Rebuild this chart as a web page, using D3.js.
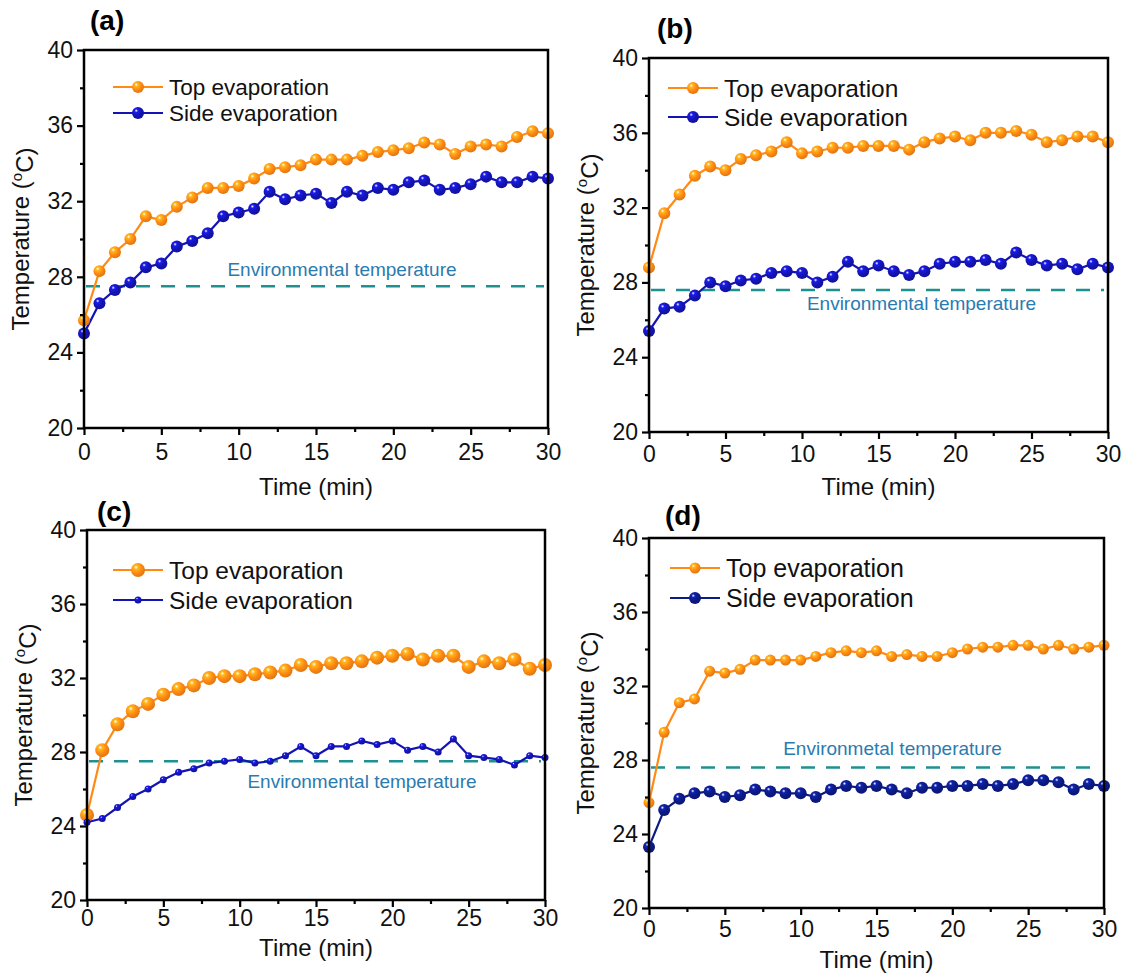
<!DOCTYPE html>
<html>
<head>
<meta charset="utf-8">
<script src="https://cdn.jsdelivr.net/npm/d3@7/dist/d3.min.js"></script>
<style>
  body { margin: 0; background: #fff; }
  svg { font-family: "Liberation Sans", Arial, sans-serif; display: block; }
</style>
</head>
<body>
<div id="chart"></div>
<script>
// =======================
// Temperature vs time, four panels
// =======================

const minutes = [0, 1, 2, 3, 4, 5, 6, 7, 8, 9, 10, 11, 12, 13, 14, 15,
                 16, 17, 18, 19, 20, 21, 22, 23, 24, 25, 26, 27, 28, 29, 30];

// (a)
const topA = [25.7, 28.3, 29.3, 30.0, 31.2, 31.0, 31.7, 32.2, 32.7, 32.7, 32.8, 33.2, 33.7, 33.8, 33.9, 34.2,
              34.2, 34.2, 34.4, 34.6, 34.7, 34.8, 35.1, 35.0, 34.5, 34.9, 35.0, 34.9, 35.4, 35.7, 35.6];
const sideA = [25.0, 26.6, 27.3, 27.7, 28.5, 28.7, 29.6, 29.9, 30.3, 31.2, 31.4, 31.6, 32.5, 32.1, 32.3, 32.4,
               31.9, 32.5, 32.3, 32.7, 32.6, 33.0, 33.1, 32.6, 32.7, 32.9, 33.3, 33.0, 33.0, 33.3, 33.2];
// (b)
const topB = [28.8, 31.7, 32.7, 33.7, 34.2, 34.0, 34.6, 34.8, 35.0, 35.5, 34.9, 35.0, 35.2, 35.2, 35.3, 35.3,
              35.3, 35.1, 35.5, 35.7, 35.8, 35.6, 36.0, 36.0, 36.1, 35.9, 35.5, 35.6, 35.8, 35.8, 35.5];
const sideB = [25.4, 26.6, 26.7, 27.3, 28.0, 27.8, 28.1, 28.2, 28.5, 28.6, 28.5, 28.0, 28.3, 29.1, 28.6, 28.9,
               28.6, 28.4, 28.6, 29.0, 29.1, 29.1, 29.2, 29.0, 29.6, 29.2, 28.9, 29.0, 28.7, 29.0, 28.8];
// (c)
const topC = [24.6, 28.1, 29.5, 30.2, 30.6, 31.1, 31.4, 31.6, 32.0, 32.1, 32.1, 32.2, 32.3, 32.4, 32.7, 32.6,
              32.8, 32.8, 32.9, 33.1, 33.2, 33.3, 33.0, 33.2, 33.2, 32.6, 32.9, 32.8, 33.0, 32.5, 32.7];
const sideC = [24.2, 24.4, 25.0, 25.6, 26.0, 26.5, 26.9, 27.1, 27.4, 27.5, 27.6, 27.4, 27.5, 27.8, 28.3, 27.8,
               28.3, 28.3, 28.6, 28.4, 28.6, 28.1, 28.3, 28.0, 28.7, 27.8, 27.7, 27.6, 27.3, 27.8, 27.7];
// (d)
const topD = [25.7, 29.5, 31.1, 31.3, 32.8, 32.7, 32.9, 33.4, 33.4, 33.4, 33.4, 33.6, 33.8, 33.9, 33.8, 33.9,
              33.6, 33.7, 33.6, 33.6, 33.8, 34.0, 34.1, 34.1, 34.2, 34.2, 34.0, 34.2, 34.0, 34.1, 34.2];
const sideD = [23.3, 25.3, 25.9, 26.2, 26.3, 26.0, 26.1, 26.4, 26.3, 26.2, 26.2, 26.0, 26.4, 26.6, 26.5, 26.6,
               26.4, 26.2, 26.5, 26.5, 26.6, 26.6, 26.7, 26.6, 26.7, 26.9, 26.9, 26.8, 26.4, 26.7, 26.6];

const envTemps = [27.5, 27.6, 27.5, 27.6];
const envLabels = ["Environmental temperature", "Environmental temperature",
                   "Environmental temperature", "Environmetal temperature"];
const panelLetters = ["(a)", "(b)", "(c)", "(d)"];
const seriesNames = ["Top evaporation", "Side evaporation"];
const yTicks = [20, 24, 28, 32, 36, 40];
const xTicks = [0, 5, 10, 15, 20, 25, 30];

// layout of each panel (pixels)
const layout = [
  { l: 84,  r: 548,  t: 50,  b: 428, envDx: 26, envDy: -10, legX: 113, legY: 87,  legGap: 26, legFont: 22.5,
    xPad: 9, titleDy: 67, letterDx: 6,  letterDy: -20, sideR: 6,   topR: 6,   sideColor: "#1414b4" },
  { l: 649, r: 1108, t: 58,  b: 432, envDx: 43, envDy: 20,  legX: 668, legY: 88,  legGap: 29, legFont: 24.5,
    xPad: 7, titleDy: 63, letterDx: 8,  letterDy: -20, sideR: 6,   topR: 6,   sideColor: "#1414b4" },
  { l: 87,  r: 545,  t: 530, b: 900, envDx: 46, envDy: 27,  legX: 113, legY: 570, legGap: 30, legFont: 24.5,
    xPad: 3, titleDy: 56, letterDx: 10, letterDy: -9,  sideR: 3.5, topR: 7,   sideColor: "#1414b4" },
  { l: 649, r: 1104, t: 538, b: 908, envDx: 16, envDy: -12, legX: 670, legY: 568, legGap: 30, legFont: 25,
    xPad: 6, titleDy: 60, letterDx: 16, letterDy: -13, sideR: 6,   topR: 5.5, sideColor: "#0c1a84" }
];
const topSeries = [topA, topB, topC, topD];
const sideSeries = [sideA, sideB, sideC, sideD];

const topColor = "#ff8a14";
const envColor = "#1f9090";
const envTextColor = "#2a7bb0";

const svg = d3.select("#chart")
  .append("svg")
    .attr("width", 1131)
    .attr("height", 976);

// shiny ball gradients
const defs = svg.append("defs");
function ballGradient(id, base) {
  const g = defs.append("radialGradient")
    .attr("id", id)
    .attr("cx", "38%").attr("cy", "35%").attr("r", "65%")
    .attr("fx", "35%").attr("fy", "30%");
  g.append("stop").attr("offset", "0%").attr("stop-color", "#ffffff");
  g.append("stop").attr("offset", "22%").attr("stop-color", d3.color(base).brighter(0.8));
  g.append("stop").attr("offset", "60%").attr("stop-color", base);
  g.append("stop").attr("offset", "100%").attr("stop-color", d3.color(base).darker(0.4));
}
ballGradient("ball-top", topColor);
ballGradient("ball-side", "#1414b4");
ballGradient("ball-side-d", "#0c1a84");

layout.forEach((p, i) => {
  const x = d3.scaleLinear().domain([0, 30]).range([p.l, p.r]);
  const y = d3.scaleLinear().domain([20, 40]).range([p.b, p.t]);
  const g = svg.append("g");
  const sideGrad = i === 3 ? "ball-side-d" : "ball-side";

  // Environmental temperature line
  g.append("line")
    .attr("x1", x(0) + 2).attr("x2", x(30) - 4)
    .attr("y1", y(envTemps[i])).attr("y2", y(envTemps[i]))
    .attr("stroke", envColor)
    .attr("stroke-width", 2.5)
    .attr("stroke-dasharray", "14,11");

  g.append("text")
    .attr("x", (x(0) + x(30)) / 2 + p.envDx)
    .attr("y", y(envTemps[i]) + p.envDy)
    .attr("text-anchor", "middle")
    .attr("fill", envTextColor)
    .style("font-size", "19px")
    .text(envLabels[i]);

  // Lines and markers
  const line = d3.line()
    .x((d, j) => x(minutes[j]))
    .y(d => y(d));

  const series = [
    { vals: topSeries[i], color: topColor, grad: "ball-top", r: p.topR },
    { vals: sideSeries[i], color: p.sideColor, grad: sideGrad, r: p.sideR }
  ];

  series.forEach(s => {
    g.append("path")
      .datum(s.vals)
      .attr("fill", "none")
      .attr("stroke", s.color)
      .attr("stroke-width", 2.2)
      .attr("d", line);
  });
  series.forEach(s => {
    g.selectAll(null)
      .data(s.vals)
      .enter()
      .append("circle")
        .attr("cx", (d, j) => x(minutes[j]))
        .attr("cy", d => y(d))
        .attr("r", s.r)
        .attr("fill", `url(#${s.grad})`);
  });

  // Legend
  series.forEach((s, k) => {
    const ly = p.legY + k * p.legGap;
    g.append("line")
      .attr("x1", p.legX).attr("x2", p.legX + 50)
      .attr("y1", ly).attr("y2", ly)
      .attr("stroke", s.color)
      .attr("stroke-width", 2.2);
    g.append("circle")
      .attr("cx", p.legX + 25).attr("cy", ly)
      .attr("r", s.r)
      .attr("fill", `url(#${s.grad})`);
    g.append("text")
      .attr("x", p.legX + 56)
      .attr("y", ly)
      .attr("dy", "0.35em")
      .style("font-size", p.legFont + "px")
      .attr("fill", "#111")
      .text(seriesNames[k]);
  });

  // Frame
  g.append("rect")
    .attr("x", p.l).attr("y", p.t)
    .attr("width", p.r - p.l).attr("height", p.b - p.t)
    .attr("fill", "none")
    .attr("stroke", "#000")
    .attr("stroke-width", 2.5);

  // Axes
  const yAxis = g.append("g")
    .attr("transform", `translate(${p.l},0)`)
    .call(d3.axisLeft(y).tickValues(yTicks).tickSize(7).tickPadding(4));
  const yMinor = g.append("g")
    .attr("transform", `translate(${p.l},0)`)
    .call(d3.axisLeft(y).tickValues([22, 26, 30, 34, 38]).tickSize(4).tickFormat(""));
  const xAxis = g.append("g")
    .attr("transform", `translate(0,${p.b})`)
    .call(d3.axisBottom(x).tickValues(xTicks).tickSize(7).tickPadding(p.xPad));
  const xMinor = g.append("g")
    .attr("transform", `translate(0,${p.b})`)
    .call(d3.axisBottom(x).tickValues([2.5, 7.5, 12.5, 17.5, 22.5, 27.5]).tickSize(4).tickFormat(""));

  [yAxis, yMinor, xAxis, xMinor].forEach(a => {
    a.select(".domain").remove();
    a.selectAll(".tick line").attr("stroke", "#000").attr("stroke-width", 2.2);
    a.selectAll("text")
      .attr("fill", "#111")
      .style("font-family", "'Liberation Sans', Arial, sans-serif")
      .style("font-size", "23px");
  });

  // Axis titles
  g.append("text")
    .attr("x", (p.l + p.r) / 2)
    .attr("y", p.b + p.titleDy)
    .attr("text-anchor", "middle")
    .style("font-size", "24px")
    .attr("fill", "#111")
    .text("Time (min)");

  const yt = g.append("text")
    .attr("transform", `translate(${p.l - 55},${(p.t + p.b) / 2}) rotate(-90)`)
    .attr("text-anchor", "middle")
    .style("font-size", "24px")
    .attr("fill", "#111");
  yt.append("tspan").text("Temperature (");
  yt.append("tspan").attr("dy", "-0.45em").style("font-size", "15px").text("o");
  yt.append("tspan").attr("dy", "0.45em").text("C)");

  // Panel letter
  g.append("text")
    .attr("x", p.l + p.letterDx)
    .attr("y", p.t + p.letterDy)
    .style("font-size", "28px")
    .style("font-weight", "bold")
    .attr("fill", "#000")
    .text(panelLetters[i]);
});
</script>
</body>
</html>
